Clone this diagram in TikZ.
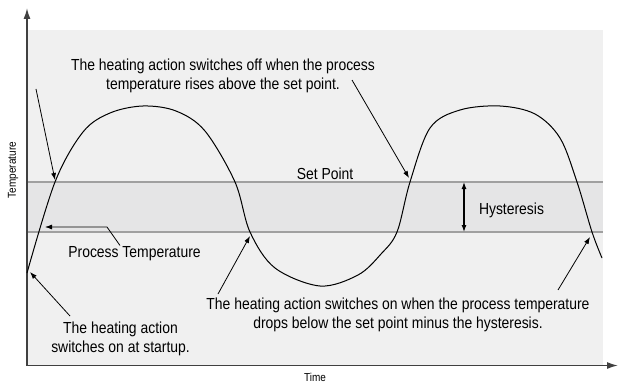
\documentclass[tikz,border=0pt]{standalone}
\usepackage{fontspec}
\setmainfont[FakeStretch=0.87]{Liberation Sans}
\usetikzlibrary{arrows.meta,calc}
\definecolor{bgA}{HTML}{F0F0F0}
\definecolor{bandC}{HTML}{E5E5E6}
\definecolor{refline}{HTML}{A0A0A0}
\definecolor{axisC}{HTML}{404040}
\tikzset{
  lbl/.style={font=\fontsize{16}{19}\selectfont, inner sep=0pt, align=center},
  axlbl/.style={font=\fontsize{11.5}{13}\selectfont, inner sep=0pt},
  pointer/.style={draw=black, line width=0.8pt, -{Latex[length=7pt,width=5pt]}},
  axisline/.style={draw=axisC, line width=1.5pt, -{Latex[length=11pt,width=7pt]}},
}
\begin{document}
\begin{tikzpicture}[x=1pt,y=-1pt]
\useasboundingbox (0,0) rectangle (618,385);
% backgrounds
\fill[bgA] (27,30) rectangle (603,365);
\fill[bandC] (27,182) rectangle (603,232);
\draw[refline, line width=1.2pt] (27,182) -- (603,182);
\draw[refline, line width=1.2pt] (27,232) -- (603,232);
% axes
\coordinate (origin) at (27,365.5);
\coordinate (ytip) at (27,8);
\coordinate (xtip) at (618,365.5);
\draw[axisline] (origin) -- (ytip);
\draw[axisline] (origin) -- (xtip);
% process curve
\draw[black, line width=1pt] plot[smooth, tension=0.55] coordinates {
 (27,273) (55,182) (83,132) (110,113) (143,106) (176,111) (205,131) (235,182)
 (250,232) (275,268) (320,286) (358,275) (381,254) (397,232) (410,182)
 (430,128) (460,110) (500,106) (535,114) (560,138) (577,182) (592,232) (602,258)};
% hysteresis arrow
\coordinate (hyTop) at (464,182);
\coordinate (hyBot) at (464,232);
\draw[black, line width=1.2pt, {Latex[length=7pt,width=5pt]}-{Latex[length=7pt,width=5pt]}] (hyTop) -- (hyBot);
% labels
\node[lbl] (offtxt) at (223,75.4) {The heating action switches off when the process\\temperature rises above the set point.};
\node[lbl, anchor=base] (sp) at (325,179) {Set Point};
\node[lbl, anchor=base] (hy) at (511.5,214) {Hysteresis};
\node[lbl, anchor=base] (pt) at (134.5,257.7) {Process Temperature};
\node[lbl] (starttxt) at (120.5,339.2) {The heating action\\switches on at startup.};
\node[lbl] (ontxt) at (398,314.9) {The heating action switches on when the process temperature\\drops below the set point minus the hysteresis.};
\node[axlbl, rotate=90] (ylab) at (13,170) {Temperature};
\node[axlbl] (xlab) at (315,377.5) {Time};
% pointer coordinates
\coordinate (a1s) at (36,89);
\coordinate (a1e) at (55,180);
\coordinate (a2s) at (352,80);
\coordinate (a2e) at (409,178);
\coordinate (ptbend) at (107,227);
\coordinate (pte) at (45,227);
\coordinate (a4s) at (70,316);
\coordinate (a4e) at (30,272);
\coordinate (a5s) at (218,294);
\coordinate (a5e) at (250,236);
\coordinate (a6s) at (558,290);
\coordinate (a6e) at (590,237);
\draw[pointer] (a1s) -- (a1e);
\draw[pointer] (a2s) -- (a2e);
\draw[pointer] ($(pt.north)+(-14.5,-1)$) -- (ptbend) -- (pte);
\draw[pointer] (a4s) -- (a4e);
\draw[pointer] (a5s) -- (a5e);
\draw[pointer] (a6s) -- (a6e);
\end{tikzpicture}
\end{document}
